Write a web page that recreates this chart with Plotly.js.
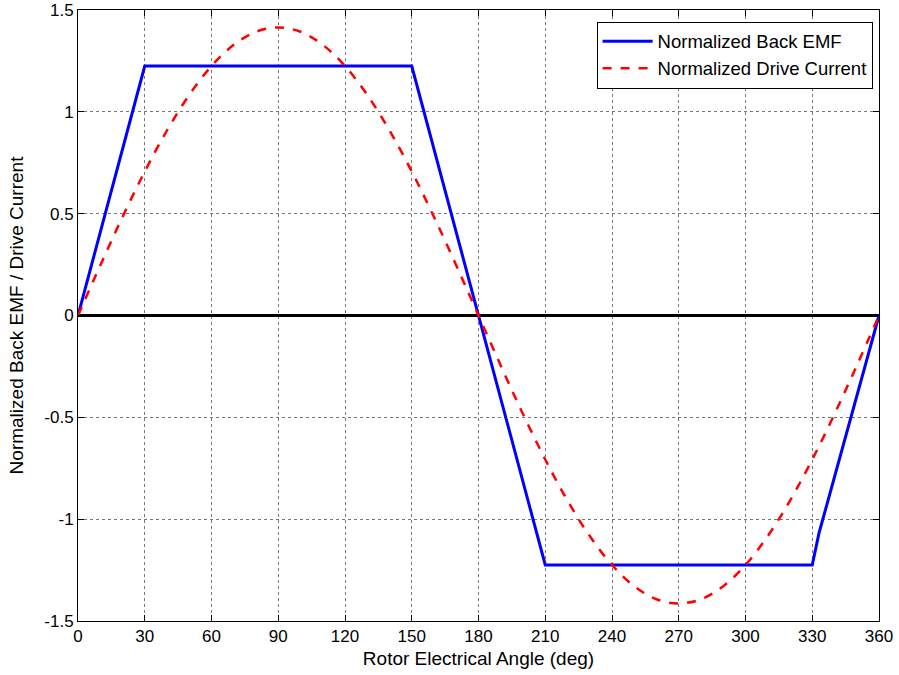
<!DOCTYPE html>
<html><head><meta charset="utf-8">
<script src="https://cdn.plot.ly/plotly-3.0.1.min.js"></script>
<style>body{margin:0;background:#fff}#chart{width:899px;height:675px}</style>
</head><body><div id="chart"></div>
<script>
const emfAngle = [0, 30, 150, 180, 210, 330, 333, 360];
const emfValue = [0, 1.225, 1.225, 0, -1.225, -1.225, -1.07, 0];
const curAngle = [0,10,20,30,40,50,60,70,80,90,100,110,120,130,140,150,160,170,180,190,200,210,220,230,240,250,260,270,280,290,300,310,320,330,340,350,360];
const curValue = [0,0.246,0.484,0.707,0.909,1.083,1.225,1.329,1.393,1.414,1.393,1.329,1.225,1.083,0.909,0.707,0.484,0.246,0,-0.246,-0.484,-0.707,-0.909,-1.083,-1.225,-1.329,-1.393,-1.414,-1.393,-1.329,-1.225,-1.083,-0.909,-0.707,-0.484,-0.246,0];
const xTicks = [0,30,60,90,120,150,180,210,240,270,300,330,360];
const yTicks = [-1.5,-1,-0.5,0,0.5,1,1.5];
const yTickText = ['-1.5','-1','-0.5','0','0.5','1','1.5'];

const traces = [
  {x: emfAngle, y: emfValue, mode: 'lines', name: 'Normalized Back EMF', line: {color: '#0000ff', width: 3}},
  {x: curAngle, y: curValue, mode: 'lines', name: 'Normalized Drive Current', line: {color: '#ff0000', width: 2.5, dash: 'dash', shape: 'spline'}}
];
const axisCommon = {
  showline: true, mirror: 'ticks', linecolor: '#000', linewidth: 1,
  ticks: 'inside', ticklen: 6, tickcolor: '#000',
  showgrid: true, gridcolor: '#777', griddash: 'dot', gridwidth: 1,
  tickfont: {family: 'Liberation Sans, Arial, sans-serif', size: 17, color: '#000'}
};
const layout = {
  width: 899, height: 675,
  margin: {l: 78, r: 20, t: 10, b: 54},
  paper_bgcolor: '#fff', plot_bgcolor: '#fff',
  showlegend: true,
  font: {family: 'Liberation Sans, Arial, sans-serif', size: 17, color: '#000'},
  xaxis: Object.assign({}, axisCommon, {
    range: [0, 360], tickvals: xTicks, ticktext: xTicks.map(String), zeroline: false,
    title: {text: 'Rotor Electrical Angle (deg)', font: {size: 19}, standoff: 6}
  }),
  yaxis: Object.assign({}, axisCommon, {
    range: [-1.5, 1.5], tickvals: yTicks, ticktext: yTickText,
    zeroline: true, zerolinecolor: '#000', zerolinewidth: 3,
    title: {text: 'Normalized Back EMF / Drive Current', font: {size: 19}, standoff: 15}
  }),
  legend: {
    x: 0.992, y: 0.981, xanchor: 'right', yanchor: 'top',
    bgcolor: '#fff', bordercolor: '#000', borderwidth: 1,
    font: {size: 18.5}, tracegroupgap: 0, itemwidth: 50
  }
};
Plotly.newPlot('chart', traces, layout, {displayModeBar: false, staticPlot: true});
</script></body></html>
